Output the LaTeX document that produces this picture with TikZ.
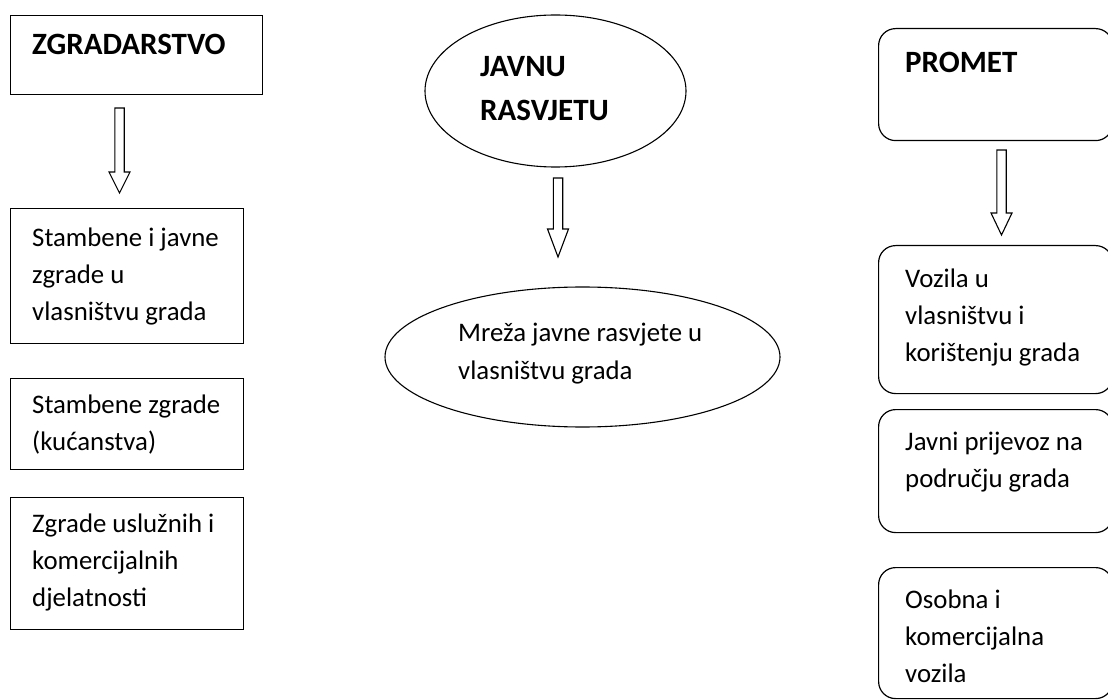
\documentclass[tikz,border=0pt]{standalone}
\usepackage{fontspec}
\setmainfont{Carlito}
\usetikzlibrary{shapes.geometric}
\tikzset{
  sqbox/.style={draw, line width=1.2pt, anchor=north west, inner sep=0pt},
  rbox/.style={draw, line width=1.2pt, anchor=north west, inner sep=0pt, rounded corners=17pt},
  oval/.style={draw, line width=1.1pt, ellipse, inner sep=0pt},
  txt/.style={anchor=base west, inner sep=0pt, text width=320pt,
    font=\fontsize{26.8}{37}\selectfont,
    execute at begin node={\spaceskip=0.226em\relax\xspaceskip=0.226em\relax}},
  ttl/.style={anchor=base west, inner sep=0pt, text width=320pt,
    font=\fontsize{31}{43.5}\selectfont\bfseries},
  arrowline/.style={draw, line width=1.1pt, line join=miter}
}
\begin{document}
\begin{tikzpicture}[x=1pt,y=-1pt]
\useasboundingbox (0,0) rectangle (1108,700);

% left column
\node[sqbox, minimum width=252pt, minimum height=79pt] (zg) at (10,15) {};
\node[ttl] (zgt) at (32,55) {ZGRADARSTVO};
\coordinate (a1) at (119.5,108);
\draw[arrowline] (a1) ++(-4.7,0) -- ++(0,64) -- ++(-5.8,0) -- ++(10.5,21)
  -- ++(10.5,-21) -- ++(-5.8,0) -- ++(0,-64) -- cycle;
\node[sqbox, minimum width=233pt, minimum height=135pt] (s1) at (10,208) {};
\node[txt] (s1t) at (32,247) {Stambene i javne\\zgrade u\\vlasništvu grada};
\node[sqbox, minimum width=233pt, minimum height=91pt] (s2) at (10,378) {};
\node[txt] (s2t) at (32,413) {Stambene zgrade\\(kućanstva)};
\node[sqbox, minimum width=233pt, minimum height=132pt] (s3) at (10,497) {};
\node[txt] (s3t) at (32,532) {Zgrade uslužnih i\\komercijalnih\\djelatnosti};

% middle column
\node[oval, minimum width=261pt, minimum height=152pt] (e1) at (555.5,91) {};
\node[ttl] (e1t) at (480,77) {JAVNU\\RASVJETU};
\coordinate (a2) at (558,178);
\draw[arrowline] (a2) ++(-4.7,0) -- ++(0,51) -- ++(-5.8,0) -- ++(10.5,28)
  -- ++(10.5,-28) -- ++(-5.8,0) -- ++(0,-51) -- cycle;
\node[oval, minimum width=395pt, minimum height=140pt] (e2) at (582.5,357) {};
\node[txt] (e2t) at (458,342) {Mreža javne rasvjete u\\vlasništvu grada};

% right column
\node[rbox, minimum width=234pt, minimum height=112pt] (p) at (878,28) {};
\node[ttl] (pt) at (905,73) {PROMET};
\coordinate (a3) at (1001.5,150);
\draw[arrowline] (a3) ++(-4.7,0) -- ++(0,63) -- ++(-5.8,0) -- ++(10.5,22)
  -- ++(10.5,-22) -- ++(-5.8,0) -- ++(0,-63) -- cycle;
\node[rbox, minimum width=234pt, minimum height=148pt] (v1) at (878,245) {};
\node[txt] (v1t) at (905,288) {Vozila u\\vlasništvu i\\korištenju grada};
\node[rbox, minimum width=234pt, minimum height=123pt] (v2) at (878,409) {};
\node[txt] (v2t) at (905,450) {Javni prijevoz na\\području grada};
\node[rbox, minimum width=234pt, minimum height=131pt] (v3) at (878,567) {};
\node[txt] (v3t) at (905,608) {Osobna i\\komercijalna\\vozila};
\end{tikzpicture}
\end{document}
